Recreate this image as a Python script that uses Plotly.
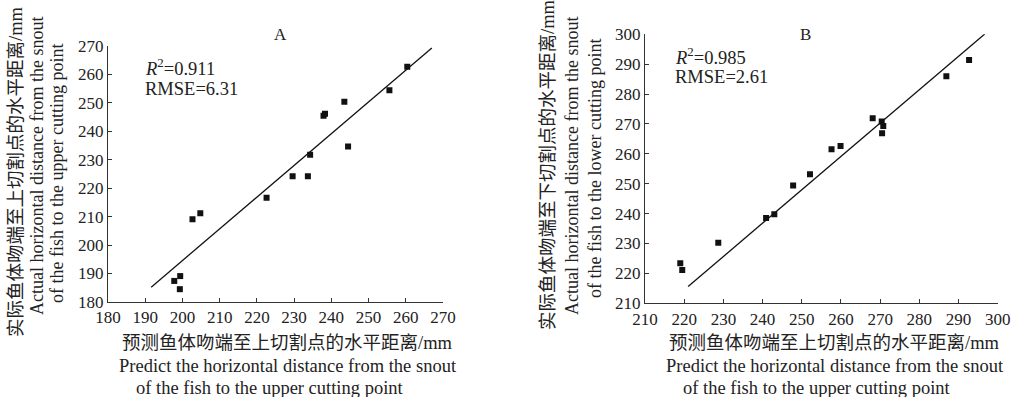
import plotly.graph_objects as go

# ---- Data ----
pred_a = [197.8, 199.4, 199.3, 202.7, 204.8, 222.6, 229.6, 233.7, 234.3, 237.9, 238.3, 243.5, 244.5, 255.6, 260.4]
actual_a = [187.4, 189.1, 184.5, 209.1, 211.2, 216.6, 224.2, 224.2, 231.7, 245.4, 246.1, 250.3, 234.6, 254.4, 262.6]
fit_a_x = [191.6, 267.0]
fit_a_y = [185.2, 269.2]

pred_b = [219.0, 219.5, 228.7, 240.9, 243.0, 247.8, 252.1, 257.6, 259.9, 268.1, 270.4, 270.8, 270.5, 286.9, 292.7]
actual_b = [223.4, 221.1, 230.3, 238.5, 239.8, 249.4, 253.2, 261.5, 262.6, 271.9, 270.8, 269.3, 266.9, 286.0, 291.4]
fit_b_x = [221.0, 296.7]
fit_b_y = [215.6, 300.1]

range_a = [180, 270]
range_b = [210, 300]
ticks_a = list(range(180, 271, 10))
ticks_b = list(range(210, 301, 10))

stats_a = ["<i>R</i><sup>2</sup>=0.911", "RMSE=6.31"]
stats_b = ["<i>R</i><sup>2</sup>=0.985", "RMSE=2.61"]

xtitle_cn = "预测鱼体吻端至上切割点的水平距离/mm"
xtitle_en1 = "Predict the horizontal distance from the snout"
xtitle_en2 = "of the fish to the upper cutting point"
ytitle_a_cn = "实际鱼体吻端至上切割点的水平距离/mm"
ytitle_b_cn = "实际鱼体吻端至下切割点的水平距离/mm"
ytitle_en1 = "Actual horizontal distance from the snout"
ytitle_a_en2 = "of the fish to the upper cutting point"
ytitle_b_en2 = "of the fish to the lower cutting point"

W, H = 1019, 397
FONT = "Liberation Serif, Times New Roman, Noto Sans CJK SC, serif"
INK = "#222222"


def px(x):
    return x / W


def py(y):
    return 1 - y / H


fig = go.Figure()

marker = dict(symbol="square", size=6, color="#111111")
line = dict(color="#111111", width=1.3)

fig.add_trace(go.Scatter(x=pred_a, y=actual_a, mode="markers", marker=marker,
                         xaxis="x", yaxis="y", showlegend=False))
fig.add_trace(go.Scatter(x=fit_a_x, y=fit_a_y, mode="lines", line=line,
                         xaxis="x", yaxis="y", showlegend=False))
fig.add_trace(go.Scatter(x=pred_b, y=actual_b, mode="markers", marker=marker,
                         xaxis="x2", yaxis="y2", showlegend=False))
fig.add_trace(go.Scatter(x=fit_b_x, y=fit_b_y, mode="lines", line=line,
                         xaxis="x2", yaxis="y2", showlegend=False))

axis_common = dict(showline=True, linecolor="#333333", linewidth=1,
                   ticks="inside", ticklen=4, tickwidth=1, tickcolor="#333333",
                   showgrid=False, zeroline=False, mirror=False, automargin=False,
                   tickfont=dict(family=FONT, size=17, color=INK))

fig.update_layout(
    template="none",
    width=W, height=H,
    margin=dict(l=0, r=0, t=0, b=0, autoexpand=False),
    paper_bgcolor="white", plot_bgcolor="white",
    font=dict(family=FONT, color=INK),
    xaxis=dict(domain=[px(108), px(443)], range=range_a, tickvals=ticks_a,
               anchor="y", **axis_common),
    yaxis=dict(domain=[py(302), py(45.7)], range=range_a, tickvals=ticks_a,
               anchor="x", **axis_common),
    xaxis2=dict(domain=[px(645), px(997.7)], range=range_b, tickvals=ticks_b,
                anchor="y2", **axis_common),
    yaxis2=dict(domain=[py(303.3), py(34.3)], range=range_b, tickvals=ticks_b,
                anchor="x2", **axis_common),
)

ann = []


def add(text, x, y, size=17, angle=0, xanchor="center"):
    ann.append(dict(text=text, x=px(x), y=py(y), xref="paper", yref="paper",
                    showarrow=False, textangle=angle, xanchor=xanchor,
                    yanchor="middle", font=dict(family=FONT, size=size, color=INK)))


# panel letters
add("A", 280, 35)
add("B", 805, 35)
# stats
add(stats_a[0], 143, 67, size=18.5, xanchor="left")
add(stats_a[1], 143, 89, size=18.5, xanchor="left")
add(stats_b[0], 673, 56, size=18.5, xanchor="left")
add(stats_b[1], 673, 77, size=18.5, xanchor="left")
# x titles
add(xtitle_cn, 287.5, 343, size=18.5)
add(xtitle_en1, 288, 366, size=18.5)
add(xtitle_en2, 270, 388, size=18.5)
add(xtitle_cn, 834, 343, size=18.5)
add(xtitle_en1, 834.5, 366, size=18.5)
add(xtitle_en2, 817, 388, size=18.5)
# y titles
add(ytitle_a_cn, 16, 172, size=18.5, angle=-90)
add(ytitle_en1, 37, 166, size=18, angle=-90)
add(ytitle_a_en2, 57, 174, size=18, angle=-90)
add(ytitle_b_cn, 548, 165, size=18.5, angle=-90)
add(ytitle_en1, 572, 166, size=18, angle=-90)
add(ytitle_b_en2, 595, 169, size=18, angle=-90)

fig.update_layout(annotations=ann)

fig.write_html("out.html",
               config={"displayModeBar": False},
               post_script="document.body.style.margin='0';document.body.style.overflow='hidden';")
